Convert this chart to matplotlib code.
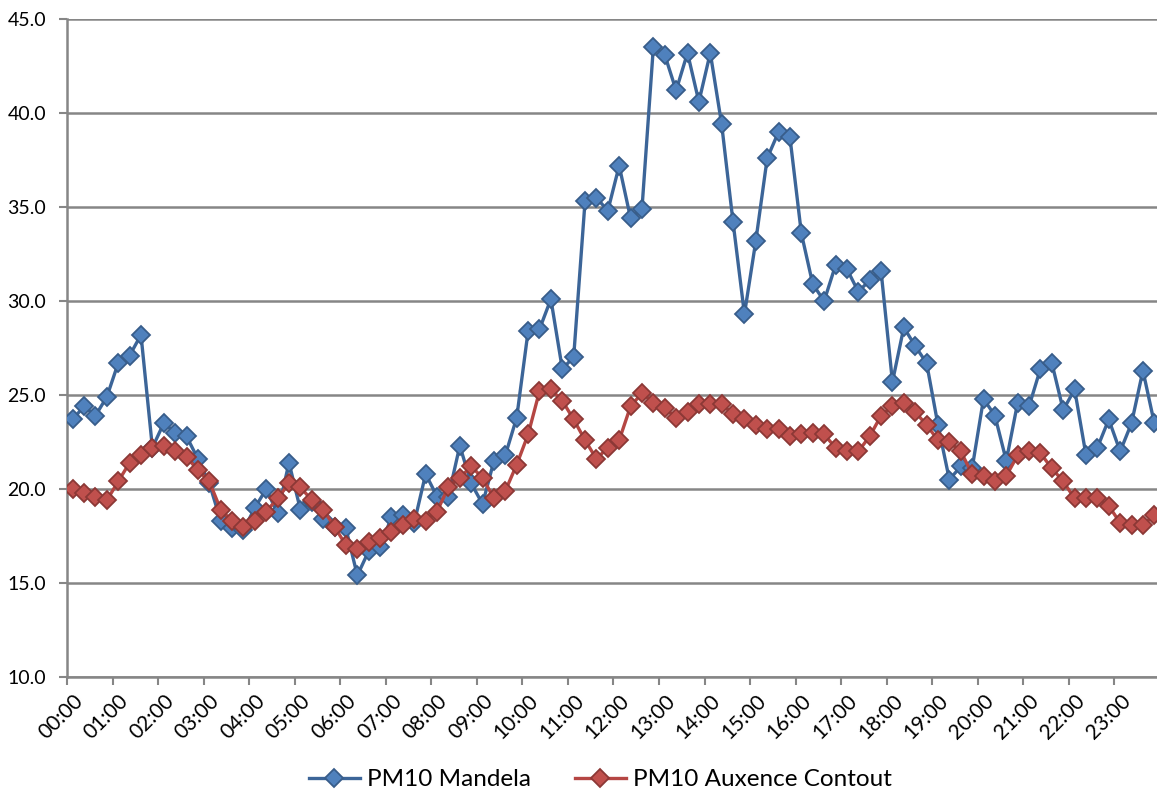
import numpy as np
import matplotlib.pyplot as plt
from matplotlib.transforms import ScaledTranslation

# quarter-hour readings over one day
hours = ["%02d:00" % h for h in range(24)]

mandela = [23.7, 24.4, 23.9, 24.9, 26.7, 27.1, 28.2, 22.2,
           23.5, 23.0, 22.8, 21.6, 20.3, 18.3, 17.9, 17.8,
           19.0, 20.0, 18.7, 21.4, 18.9, 19.3, 18.4, 18.0,
           17.9, 15.4, 16.7, 16.9, 18.5, 18.6, 18.2, 20.8,
           19.6, 19.6, 22.3, 20.3, 19.2, 21.5, 21.8, 23.8,
           28.4, 28.5, 30.1, 26.4, 27.0, 35.3, 35.5, 34.8,
           37.2, 34.4, 34.9, 43.5, 43.1, 41.2, 43.2, 40.6,
           43.2, 39.4, 34.2, 29.3, 33.2, 37.6, 39.0, 38.7,
           33.6, 30.9, 30.0, 31.9, 31.7, 30.5, 31.1, 31.6,
           25.7, 28.6, 27.6, 26.7, 23.4, 20.5, 21.2, 21.1,
           24.8, 23.9, 21.5, 24.6, 24.4, 26.4, 26.7, 24.2,
           25.3, 21.8, 22.2, 23.7, 22.0, 23.5, 26.3, 23.5]

auxence = [20.0, 19.8, 19.6, 19.4, 20.4, 21.4, 21.8, 22.2,
           22.3, 22.0, 21.7, 21.0, 20.4, 18.9, 18.3, 18.0,
           18.3, 18.8, 19.5, 20.3, 20.1, 19.4, 18.9, 18.0,
           17.0, 16.8, 17.2, 17.4, 17.7, 18.1, 18.4, 18.3,
           18.8, 20.1, 20.6, 21.2, 20.6, 19.5, 19.9, 21.3,
           22.9, 25.2, 25.3, 24.7, 23.7, 22.6, 21.6, 22.2,
           22.6, 24.4, 25.1, 24.6, 24.3, 23.8, 24.1, 24.5,
           24.5, 24.5, 24.0, 23.7, 23.4, 23.2, 23.2, 22.8,
           22.9, 23.0, 22.9, 22.2, 22.0, 22.0, 22.8, 23.9,
           24.4, 24.6, 24.1, 23.4, 22.6, 22.5, 22.0, 20.8,
           20.7, 20.4, 20.7, 21.8, 22.0, 21.9, 21.1, 20.4,
           19.5, 19.5, 19.5, 19.1, 18.2, 18.1, 18.1, 18.6]

plt.rcParams['font.family'] = ['Lato', 'DejaVu Sans']

fig = plt.figure(figsize=(11.57, 7.94), dpi=100)
ax = fig.add_axes([0.0579, 0.1474, 0.9447, 0.8286])

x = np.arange(len(mandela))
ax.plot(x, mandela, color="#3C6598", lw=2.4, marker="D", ms=9,
        mfc="#4F81BD", mec="#385D8A", mew=1.3, label="PM10 Mandela", zorder=3)
ax.plot(x, auxence, color="#B54643", lw=2.4, marker="D", ms=9,
        mfc="#C0504D", mec="#8C3836", mew=1.3, label="PM10 Auxence Contout", zorder=3)

ax.set_xlim(-0.5, len(x) - 0.5)
ax.set_ylim(10, 45)
ax.set_yticks(np.arange(10, 46, 5))
ax.set_yticklabels(["%.1f" % v for v in np.arange(10, 46, 5)], fontsize=14)

# labels sit on the hour categories, tick marks on the category boundaries
ax.set_xticks(np.arange(0, 96, 4))
ax.set_xticklabels(hours, rotation=45, ha="right", va="top",
                   rotation_mode="anchor", fontsize=15)
shift = ScaledTranslation(6 / 100, -4 / 100, fig.dpi_scale_trans)
for lbl in ax.get_xticklabels():
    lbl.set_transform(lbl.get_transform() + shift)
ax.set_xticks(np.arange(-0.5, 96, 4), minor=True)
ax.tick_params(axis="x", which="major", length=0, pad=10)
ax.tick_params(axis="x", which="minor", length=6, width=1.5, color="#868686")
ax.tick_params(axis="y", length=6, width=1.5, color="#868686", pad=9)

ax.grid(axis="y", color="#868686", lw=1.8)
ax.set_axisbelow(True)
for side in ["top", "right"]:
    ax.spines[side].set_visible(False)
for side in ["left", "bottom"]:
    ax.spines[side].set_color("#868686")
    ax.spines[side].set_linewidth(1.8)

fig.legend(loc="center", bbox_to_anchor=(0.519, 0.018), ncol=2,
           frameon=False, fontsize=17.5, handlelength=2.1, handletextpad=0.3,
           columnspacing=1.8, borderpad=0)

fig.savefig("out.png", dpi=100)
